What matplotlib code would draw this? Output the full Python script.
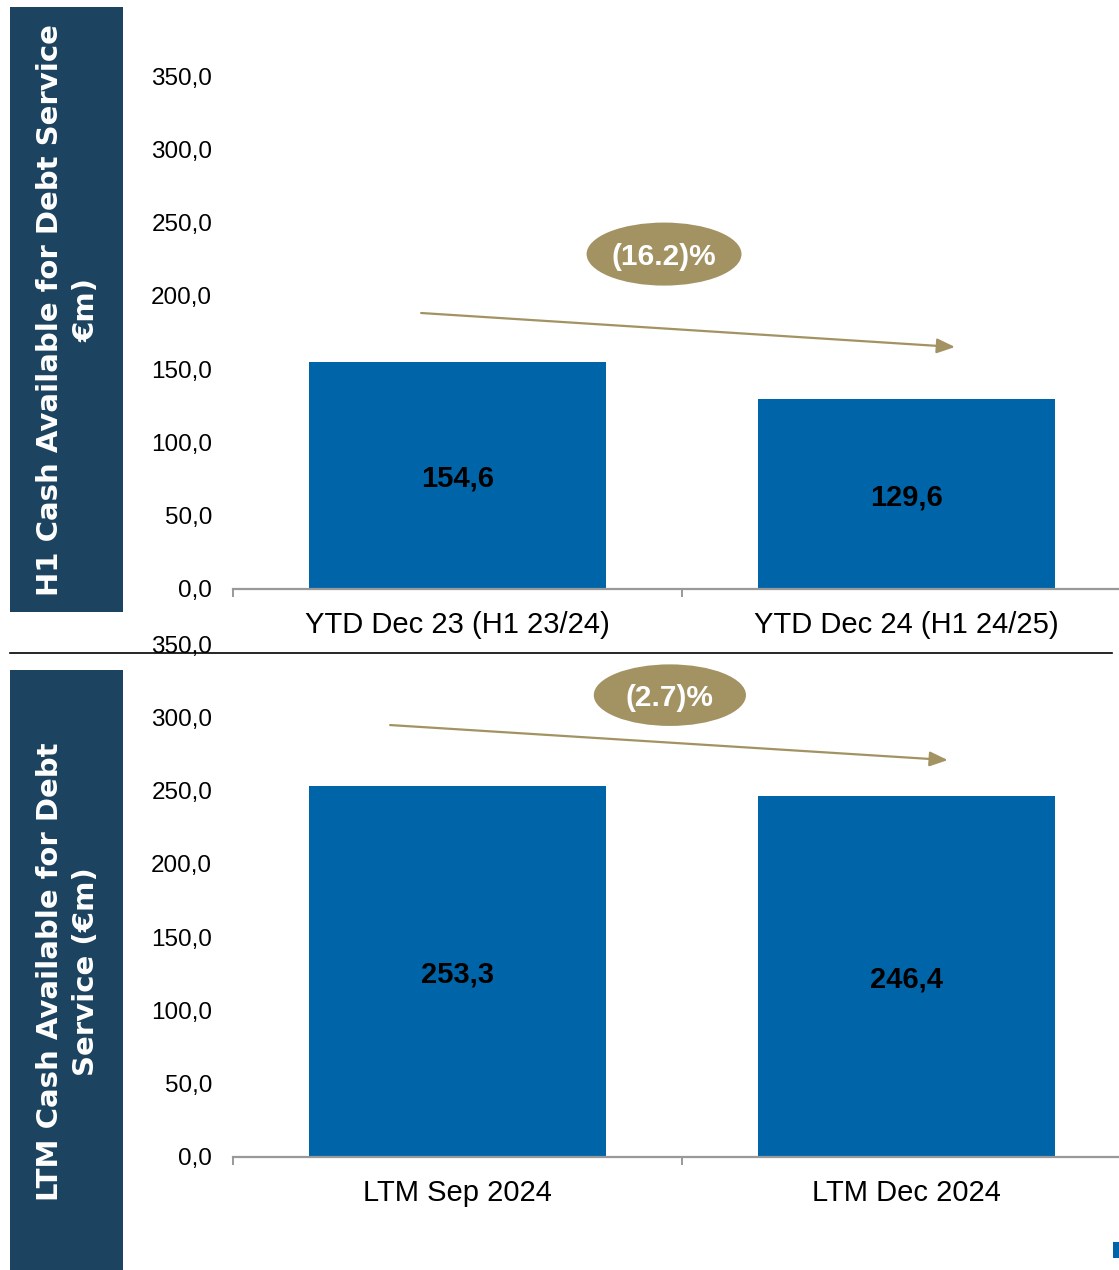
import matplotlib
matplotlib.use("Agg")
import matplotlib.pyplot as plt
from matplotlib.patches import Rectangle, Ellipse
from matplotlib.lines import Line2D
from matplotlib.ticker import FuncFormatter, FixedLocator

# ---- data ----
top_categories = ["YTD Dec 23 (H1 23/24)", "YTD Dec 24 (H1 24/25)"]
top_values = [154.6, 129.6]
top_change = "(16.2)%"
top_title = "H1 Cash Available for Debt Service\n€m)"

bot_categories = ["LTM Sep 2024", "LTM Dec 2024"]
bot_values = [253.3, 246.4]
bot_change = "(2.7)%"
bot_title = "LTM Cash Available for Debt\nService (€m)"

y_ticks = [0, 50, 100, 150, 200, 250, 300, 350]

BAR = "#0064A8"
BOX = "#1C4461"
KHAKI = "#A39262"
AXGRAY = "#999999"

plt.rcParams['font.family'] = ['Liberation Sans', 'DejaVu Sans']

W, H = 1119, 1270
fig = plt.figure(figsize=(W / 100, H / 100), dpi=100)


def fx(px):
    return px / W


def fy(py):
    return 1 - py / H


def panel(ax_rect, cats, vals, change, arrow, ell):
    ax = fig.add_axes(ax_rect)
    x = list(range(len(cats)))
    ax.bar(x, vals, width=0.66, color=BAR, zorder=2)
    ax.set_xlim(-0.5, len(cats) - 0.5)
    ax.set_ylim(0, 350)
    for s in ["top", "right", "left"]:
        ax.spines[s].set_visible(False)
    ax.spines["bottom"].set_color(AXGRAY)
    ax.spines["bottom"].set_linewidth(1.6)
    ax.yaxis.set_major_locator(FixedLocator(y_ticks))
    ax.yaxis.set_major_formatter(FuncFormatter(lambda v, p: f"{v:.1f}".replace(".", ",")))
    ax.tick_params(axis="y", length=0, pad=15, labelsize=17.5)
    ax.set_xticks([i - 0.5 for i in range(len(cats) + 1)])
    ax.set_xticklabels([""] * (len(cats) + 1))
    ax.set_xticks(x, minor=True)
    ax.set_xticklabels(cats, minor=True)
    ax.tick_params(axis="x", which="major", length=6, color=AXGRAY, width=1.4, direction="out")
    ax.tick_params(axis="x", which="minor", length=0, pad=16, labelsize=21)
    for xi, v in zip(x, vals):
        ax.text(xi, v / 2, f"{v:.1f}".replace(".", ","), ha="center", va="center_baseline",
                fontsize=21, fontweight="bold", color="black", zorder=3)
    (x0, y0), (x1, y1) = arrow
    ax.annotate("", xy=(x1, y1), xytext=(x0, y0),
                arrowprops=dict(arrowstyle="-|>,head_length=1.1,head_width=0.45",
                                color=KHAKI, lw=1.6, shrinkA=0, shrinkB=0), zorder=4)
    (ex, ey, ew, eh) = ell
    ax.add_patch(Ellipse((ex, ey), ew, eh, facecolor=KHAKI, edgecolor="none", zorder=4,
                         clip_on=False))
    ax.text(ex, ey, change, ha="center", va="center_baseline", color="white", fontsize=21.5,
            fontweight="bold", zorder=5)
    return ax


ax_w = 898 / W
panel([fx(233), fy(589), ax_w, (589 - 76) / H], top_categories, top_values, top_change,
      ((-0.081, 188.3), (1.108, 165.1)), (0.46, 228.5, 0.345, 43))
panel([fx(233), fy(1157), ax_w, (1157 - 644) / H], bot_categories, bot_values, bot_change,
      ((-0.150, 294.7), (1.092, 270.8)), (0.473, 315.1, 0.339, 42))

# side boxes
fig.patches.append(Rectangle((fx(10), fy(612)), fx(113), (612 - 7) / H,
                             transform=fig.transFigure, facecolor=BOX, edgecolor="none", zorder=0))
fig.patches.append(Rectangle((fx(10), fy(1270)), fx(113), (1270 - 670) / H,
                             transform=fig.transFigure, facecolor=BOX, edgecolor="none", zorder=0))
fig.text(fx(68), fy(310), top_title, rotation=90, ha="center", va="center", color="white",
         fontsize=21, fontweight="bold", family=["DejaVu Sans"], linespacing=1.4)
fig.text(fx(68), fy(972), bot_title, rotation=90, ha="center", va="center", color="white",
         fontsize=21, fontweight="bold", family=["DejaVu Sans"], linespacing=1.4)

# separator line
fig.lines.append(Line2D([fx(10), fx(1112)], [fy(653), fy(653)], transform=fig.transFigure,
                        color="black", lw=1.2))
# small blue mark bottom right
fig.patches.append(Rectangle((fx(1113), fy(1258)), fx(6), 16 / H, transform=fig.transFigure,
                             facecolor=BAR, edgecolor="none"))

fig.savefig("out.png", dpi=100)
